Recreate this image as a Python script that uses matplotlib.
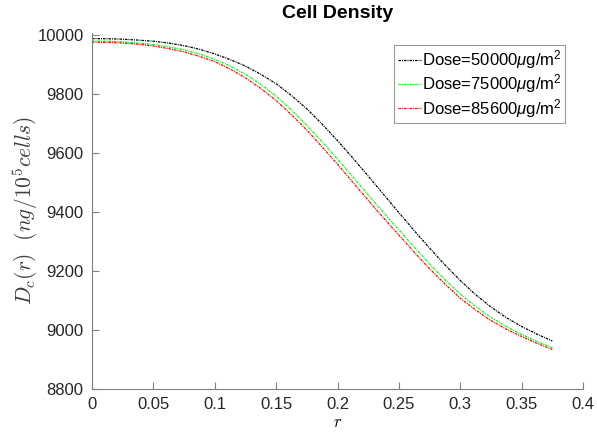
import matplotlib
matplotlib.use("Agg")
import matplotlib.pyplot as plt

r = [0, 0.0125, 0.025, 0.0375, 0.05, 0.0625, 0.075, 0.0875, 0.1, 0.1125, 0.125, 0.1375,
     0.15, 0.1625, 0.175, 0.1875, 0.2, 0.2125, 0.225, 0.2375, 0.25, 0.2625, 0.275, 0.2875,
     0.3, 0.3125, 0.325, 0.3375, 0.35, 0.3625, 0.375]
d_50000 = [9988, 9987.5, 9986, 9983, 9979, 9973, 9964, 9952, 9936, 9917, 9895, 9867,
           9835, 9795, 9750, 9698, 9642, 9583, 9522, 9460, 9398, 9337, 9278, 9221,
           9168, 9120, 9078, 9042, 9012, 8986, 8963]
d_75000 = [9980, 9979, 9977, 9973, 9968, 9960, 9950, 9936, 9918, 9895, 9867, 9833,
           9793, 9746, 9694, 9638, 9580, 9519, 9458, 9398, 9340, 9281, 9224, 9171,
           9122, 9080, 9043, 9012, 8985, 8961, 8940]
d_85600 = [9976, 9975, 9973, 9969, 9963, 9954, 9943, 9928, 9910, 9885, 9855, 9819,
           9778, 9730, 9678, 9621, 9562, 9501, 9440, 9380, 9322, 9264, 9208, 9156,
           9108, 9068, 9032, 9003, 8978, 8955, 8934]
labels = [r"Dose=50000$\mu$g/m$^2$", r"Dose=75000$\mu$g/m$^2$", r"Dose=85600$\mu$g/m$^2$"]
colors = ["#000000", "#00ff00", "#ff0000"]
xticks = [0, 0.05, 0.1, 0.15, 0.2, 0.25, 0.3, 0.35, 0.4]
yticks = [8800, 9000, 9200, 9400, 9600, 9800, 10000]

plt.rcParams['font.family'] = ['Liberation Sans', 'DejaVu Sans']
plt.rcParams['mathtext.fontset'] = 'custom'
plt.rcParams['mathtext.rm'] = 'Liberation Sans'
plt.rcParams['mathtext.it'] = 'Liberation Sans:italic'

fig = plt.figure(figsize=(5.97, 4.32), dpi=100)
ax = fig.add_axes([92/597, 1-389/432, (583-92)/597, (389-33)/432])

for ys, lab, c in zip([d_50000, d_75000, d_85600], labels, colors):
    ax.plot(r, ys, color=c, linestyle=(0, (2, 0.8, 0.8, 0.8)), linewidth=0.9, label=lab)

ax.set_xlim(0, 0.4)
ax.set_ylim(8800, 10007)
ax.set_xticks(xticks)
ax.set_xticklabels([f"{v:g}" for v in xticks])
ax.set_yticks(yticks)
ax.set_yticklabels([str(v) for v in yticks])
for s in ['top', 'right']:
    ax.spines[s].set_visible(False)
for s in ['left', 'bottom']:
    ax.spines[s].set_color('#808080')
    ax.spines[s].set_linewidth(0.8)
ax.tick_params(direction='in', length=5, width=0.8, color='#808080', labelsize=12, labelcolor='#262626', pad=6)

ax.set_title("Cell Density", fontsize=14, fontweight='bold', pad=11)
ax.set_xlabel(r"$r$", fontsize=12, labelpad=2)
ax.set_ylabel(r"$D_c(r)\ \ (ng/10^5 cells)$", fontsize=15.5, labelpad=-2, color='#404040')
ax.yaxis.label.set_math_fontfamily('cm')
ax.xaxis.label.set_math_fontfamily('cm')

leg = ax.legend(loc='upper right', bbox_to_anchor=(1 - 18/491, 1 - 12/356), fontsize=12,
                frameon=True, fancybox=False, edgecolor='#808080', handlelength=1.4,
                handletextpad=0.05, borderpad=0.2, labelspacing=0.08, borderaxespad=0)
leg.get_frame().set_linewidth(0.8)

fig.savefig("out.png", dpi=100)
